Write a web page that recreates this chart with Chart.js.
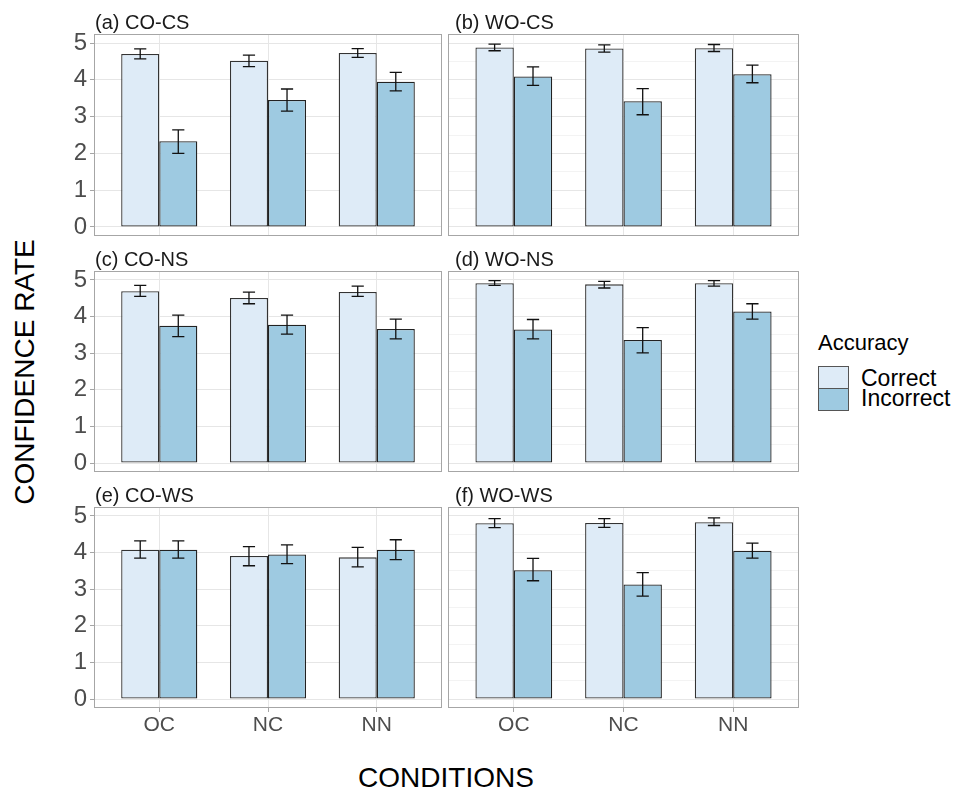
<!DOCTYPE html>
<html lang="en">
<head>
  <meta charset="UTF-8" />
  <title>Confidence rate by condition</title>
  <script src="https://cdn.jsdelivr.net/npm/chart.js"></script>
  <style>
    body { margin: 0; background: #fff; font-family: "Liberation Sans", Arial, sans-serif; }
    #page { position: relative; width: 957px; height: 792px; overflow: hidden; }
    canvas { position: absolute; }
    .txt { position: absolute; line-height: 1; white-space: nowrap; color: #1a1a1a; }
    .key { position: absolute; width: 29px; height: 21px; border: 1px solid #555; }
  </style>
</head>
<body>
  <div id="page">
    <div class="txt" style="left:25px; top:372px; font-size:28px; color:#000; transform:translate(-50%,-50%) rotate(-90deg);">CONFIDENCE RATE</div>
    <div class="txt" style="left:446px; top:764px; font-size:28px; color:#000; transform:translateX(-50%);">CONDITIONS</div>

    <div class="txt" style="left:818px; top:332px; font-size:22px; color:#000;">Accuracy</div>
    <div class="key" style="left:818px; top:366px; background:#deebf7;"></div>
    <div class="key" style="left:818px; top:388px; background:#9ecae1;"></div>
    <div class="txt" style="left:861px; top:367px; font-size:23px; color:#000;">Correct</div>
    <div class="txt" style="left:861px; top:387px; font-size:23px; color:#000;">Incorrect</div>
  </div>

  <script>
    // values: one row per panel, one column per condition
    const conditions = ['OC', 'NC', 'NN'];
    const panelTitles = ['(a) CO-CS', '(b) WO-CS', '(c) CO-NS', '(d) WO-NS', '(e) CO-WS', '(f) WO-WS'];

    const correctMean = [
      [4.70, 4.52, 4.73],
      [4.88, 4.85, 4.86],
      [4.69, 4.51, 4.67],
      [4.91, 4.88, 4.91],
      [4.08, 3.91, 3.87],
      [4.80, 4.81, 4.83]
    ];
    const correctLow = [
      [4.57, 4.36, 4.61],
      [4.79, 4.75, 4.77],
      [4.55, 4.35, 4.55],
      [4.85, 4.78, 4.83],
      [3.85, 3.64, 3.61],
      [4.68, 4.69, 4.74]
    ];
    const correctHigh = [
      [4.84, 4.67, 4.85],
      [4.97, 4.95, 4.96],
      [4.85, 4.67, 4.83],
      [4.98, 4.96, 4.98],
      [4.32, 4.16, 4.14],
      [4.93, 4.93, 4.95]
    ];
    const incorrectMean = [
      [2.33, 3.45, 3.95],
      [4.09, 3.42, 4.15],
      [3.75, 3.78, 3.66],
      [3.65, 3.36, 4.14],
      [4.08, 3.95, 4.08],
      [3.52, 3.13, 4.05]
    ];
    const incorrectLow = [
      [2.00, 3.15, 3.70],
      [3.85, 3.05, 3.92],
      [3.45, 3.52, 3.39],
      [3.39, 3.01, 3.93],
      [3.85, 3.70, 3.81],
      [3.23, 2.81, 3.85]
    ];
    const incorrectHigh = [
      [2.64, 3.75, 4.20],
      [4.35, 3.76, 4.40],
      [4.04, 4.04, 3.93],
      [3.92, 3.70, 4.35],
      [4.32, 4.21, 4.35],
      [3.84, 3.45, 4.26]
    ];
    const yTicks = [0, 0.5, 1, 1.5, 2, 2.5, 3, 3.5, 4, 4.5, 5];

    const FONT = '"Liberation Sans", Arial, sans-serif';

    // error bars + panel border, drawn on top of the bars
    const errorBars = {
      id: 'errorBars',
      afterDatasetsDraw(chart) {
        const ctx = chart.ctx;
        const y = chart.scales.y;
        chart.data.datasets.forEach((ds, di) => {
          const meta = chart.getDatasetMeta(di);
          meta.data.forEach((bar, j) => {
            const lo = y.getPixelForValue(ds.errLow[j]);
            const hi = y.getPixelForValue(ds.errHigh[j]);
            const half = bar.width * 0.16;
            ctx.save();
            ctx.strokeStyle = '#111';
            ctx.lineWidth = 1.3;
            ctx.beginPath();
            ctx.moveTo(bar.x, lo); ctx.lineTo(bar.x, hi);
            ctx.moveTo(bar.x - half, lo); ctx.lineTo(bar.x + half, lo);
            ctx.moveTo(bar.x - half, hi); ctx.lineTo(bar.x + half, hi);
            ctx.stroke();
            ctx.restore();
          });
        });
        const a = chart.chartArea;
        ctx.save();
        ctx.strokeStyle = '#a6a6a6';
        ctx.lineWidth = 1;
        ctx.strokeRect(a.left + 0.5, a.top + 0.5, a.right - a.left - 1, a.bottom - a.top - 1);
        ctx.restore();
      }
    };

    function makePanel(i) {
      const col = i % 2, row = Math.floor(i / 2);
      const plotL = col ? 448 : 94, plotR = col ? 799 : 442;
      const plotT = [34, 271, 507][row], plotB = [236, 472, 708][row];
      const bottomRow = row === 2;
      const pad = 8;

      const canvasL = col ? 440 : 40;
      const canvasT = plotT - pad;
      const w = plotR + pad - canvasL;
      const xAxisH = bottomRow ? 34 : 0;
      const h = plotB - canvasT + (bottomRow ? xAxisH : pad);

      const canvas = document.createElement('canvas');
      canvas.width = w; canvas.height = h;
      canvas.style.left = canvasL + 'px';
      canvas.style.top = canvasT + 'px';
      canvas.style.width = w + 'px';
      canvas.style.height = h + 'px';
      document.getElementById('page').appendChild(canvas);

      const title = document.createElement('div');
      title.className = 'txt';
      title.style.left = (col ? 455 : 95) + 'px';
      title.style.top = (plotT - 22) + 'px';
      title.style.fontSize = '20px';
      title.textContent = panelTitles[i];
      document.getElementById('page').appendChild(title);

      new Chart(canvas.getContext('2d'), {
        type: 'bar',
        data: {
          datasets: [
            {
              label: 'Correct',
              data: correctMean[i].map((v, k) => ({ x: k + 1, y: v })),
              errLow: correctLow[i],
              errHigh: correctHigh[i],
              backgroundColor: '#deebf7',
              borderColor: '#333',
              borderWidth: 1.3,
              borderSkipped: false
            },
            {
              label: 'Incorrect',
              data: incorrectMean[i].map((v, k) => ({ x: k + 1, y: v })),
              errLow: incorrectLow[i],
              errHigh: incorrectHigh[i],
              backgroundColor: '#9ecae1',
              borderColor: '#222',
              borderWidth: 1.3,
              borderSkipped: false
            }
          ]
        },
        options: {
          responsive: false,
          animation: false,
          devicePixelRatio: 1,
          categoryPercentage: 0.7,
          barPercentage: 1.0,
          layout: { padding: { top: pad, right: pad, bottom: bottomRow ? 0 : pad, left: 0 } },
          plugins: { legend: { display: false }, tooltip: { enabled: false } },
          scales: {
            x: {
              type: 'linear',
              min: 0.4,
              max: 3.6,
              offset: false,
              border: { display: false },
              afterBuildTicks: s => { s.ticks = [1, 2, 3].map(v => ({ value: v })); },
              afterFit: s => { s.height = xAxisH; s.paddingLeft = 0; s.paddingRight = 0; },
              grid: {
                offset: false,
                color: '#e6e6e6',
                lineWidth: 1,
                drawTicks: bottomRow,
                tickLength: 4,
                tickColor: '#a6a6a6'
              },
              ticks: {
                display: bottomRow,
                padding: 1,
                color: '#4d4d4d',
                font: { family: FONT, size: 21 },
                callback: v => conditions[v - 1] || ''
              }
            },
            y: {
              min: -0.245,
              max: 5.245,
              border: { display: false },
              afterBuildTicks: s => { s.ticks = yTicks.map(v => ({ value: v })); },
              afterFit: s => { s.width = plotL - canvasL; s.paddingTop = 0; s.paddingBottom = 0; },
              grid: {
                color: c => Number.isInteger(c.tick.value) ? '#e6e6e6' : '#f3f3f3',
                lineWidth: 1,
                drawTicks: col === 0,
                tickLength: 4,
                tickColor: c => Number.isInteger(c.tick.value) ? '#a6a6a6' : 'rgba(0,0,0,0)'
              },
              ticks: {
                display: col === 0,
                padding: 3,
                color: '#4d4d4d',
                font: { family: FONT, size: 24 },
                callback: v => Number.isInteger(v) ? String(v) : ''
              }
            }
          }
        },
        plugins: [errorBars]
      });
    }

    for (let i = 0; i < 6; i++) makePanel(i);
  </script>
</body>
</html>
